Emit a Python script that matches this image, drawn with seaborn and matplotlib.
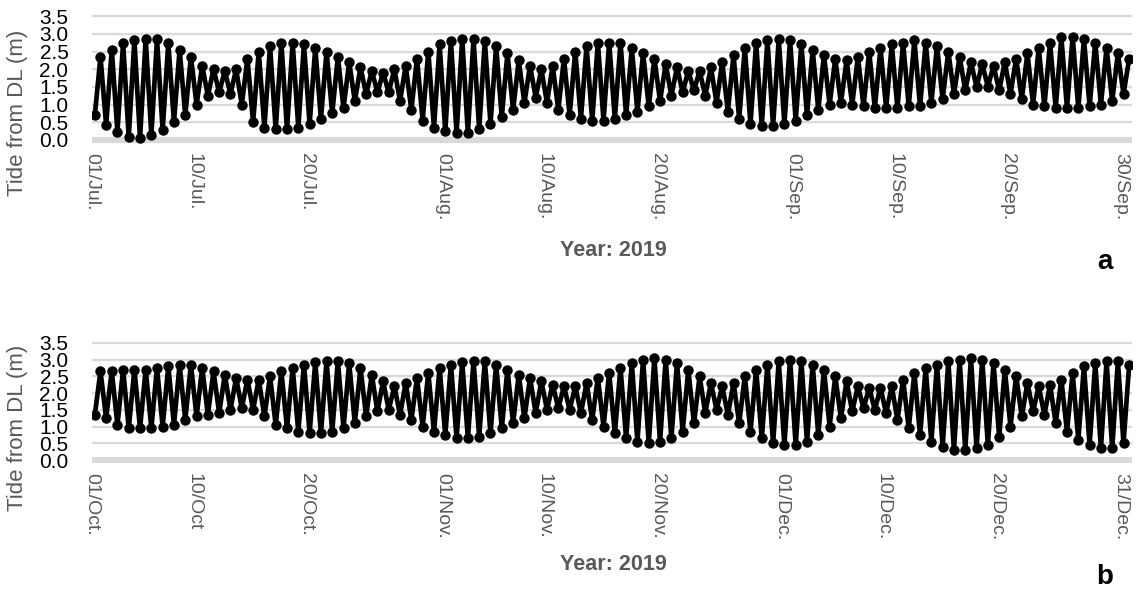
import matplotlib
matplotlib.use("Agg")
import matplotlib.pyplot as plt
from matplotlib import font_manager
import numpy as np
import pandas as pd
import seaborn as sns

# Daily high / low water levels above datum level (m), 1 Jul – 30 Sep 2019
high_jul_sep = [2.35, 2.55, 2.74, 2.82, 2.85, 2.85, 2.74, 2.55, 2.35, 2.10,
                2.00, 1.95, 2.00, 2.30, 2.50, 2.65, 2.75, 2.75, 2.70, 2.60,
                2.50, 2.35, 2.20, 2.05, 1.95, 1.90, 2.00, 2.10, 2.30, 2.50,
                2.70, 2.80, 2.85, 2.85, 2.80, 2.65, 2.45, 2.25, 2.10, 2.00,
                2.10, 2.30, 2.50, 2.65, 2.75, 2.75, 2.75, 2.60, 2.45, 2.30,
                2.15, 2.05, 1.95, 1.95, 2.05, 2.20, 2.40, 2.60, 2.75, 2.82,
                2.85, 2.82, 2.70, 2.55, 2.40, 2.30, 2.25, 2.35, 2.50, 2.60,
                2.70, 2.75, 2.82, 2.75, 2.65, 2.50, 2.35, 2.20, 2.15, 2.10,
                2.20, 2.30, 2.45, 2.60, 2.75, 2.90, 2.92, 2.85, 2.75, 2.60,
                2.45, 2.30]
low_jul_sep = [0.70, 0.42, 0.23, 0.08, 0.05, 0.14, 0.28, 0.50, 0.70, 1.00,
               1.25, 1.35, 1.30, 1.00, 0.50, 0.35, 0.30, 0.30, 0.35, 0.45,
               0.60, 0.75, 0.90, 1.10, 1.30, 1.35, 1.35, 1.10, 0.85, 0.55,
               0.35, 0.25, 0.20, 0.20, 0.30, 0.45, 0.65, 0.85, 1.05, 1.20,
               1.05, 0.85, 0.70, 0.60, 0.55, 0.55, 0.60, 0.70, 0.80, 0.95,
               1.10, 1.25, 1.35, 1.40, 1.25, 1.05, 0.80, 0.60, 0.45, 0.40,
               0.40, 0.45, 0.55, 0.70, 0.85, 1.00, 1.05, 1.00, 0.95, 0.90,
               0.90, 0.90, 0.95, 0.95, 1.05, 1.15, 1.30, 1.40, 1.50, 1.50,
               1.40, 1.30, 1.15, 1.00, 0.95, 0.90, 0.90, 0.90, 0.95, 1.00,
               1.10, 1.30]

# Daily high / low water levels above datum level (m), 1 Oct – 31 Dec 2019
high_oct_dec = [2.65, 2.65, 2.70, 2.70, 2.70, 2.75, 2.80, 2.85, 2.85, 2.75,
                2.65, 2.55, 2.45, 2.40, 2.40, 2.50, 2.65, 2.75, 2.85, 2.92,
                2.95, 2.95, 2.90, 2.75, 2.55, 2.35, 2.20, 2.30, 2.45, 2.60,
                2.75, 2.85, 2.92, 2.95, 2.95, 2.85, 2.70, 2.55, 2.45, 2.35,
                2.25, 2.20, 2.20, 2.30, 2.45, 2.60, 2.75, 2.90, 3.00, 3.04,
                3.00, 2.90, 2.70, 2.50, 2.30, 2.20, 2.30, 2.50, 2.70, 2.85,
                2.95, 3.00, 2.95, 2.85, 2.70, 2.50, 2.35, 2.20, 2.15, 2.15,
                2.20, 2.40, 2.60, 2.75, 2.85, 2.95, 3.00, 3.04, 3.00, 2.90,
                2.70, 2.50, 2.30, 2.20, 2.25, 2.40, 2.60, 2.80, 2.90, 2.95,
                2.95, 2.85]
low_oct_dec = [1.35, 1.25, 1.05, 0.95, 0.95, 0.95, 1.00, 1.05, 1.20, 1.30,
               1.35, 1.40, 1.50, 1.55, 1.50, 1.30, 1.05, 0.95, 0.85, 0.80,
               0.80, 0.85, 0.95, 1.10, 1.30, 1.45, 1.50, 1.35, 1.20, 1.00,
               0.85, 0.75, 0.65, 0.65, 0.70, 0.80, 0.95, 1.10, 1.25, 1.40,
               1.50, 1.55, 1.50, 1.40, 1.20, 1.00, 0.80, 0.65, 0.55, 0.50,
               0.55, 0.65, 0.85, 1.10, 1.40, 1.50, 1.35, 1.10, 0.85, 0.65,
               0.50, 0.45, 0.45, 0.55, 0.75, 1.00, 1.25, 1.45, 1.55, 1.50,
               1.40, 1.20, 0.95, 0.75, 0.55, 0.40, 0.30, 0.30, 0.35, 0.45,
               0.70, 1.00, 1.30, 1.45, 1.35, 1.10, 0.85, 0.60, 0.45, 0.35,
               0.35, 0.50]

# Date ticks and their labels
ticks_jul_sep = ["2019-07-01", "2019-07-10", "2019-07-20", "2019-08-01", "2019-08-10",
                 "2019-08-20", "2019-09-01", "2019-09-10", "2019-09-20", "2019-09-30"]
labels_jul_sep = ["01/Jul.", "10/Jul.", "20/Jul.", "01/Aug.", "10/Aug.",
                  "20/Aug.", "01/Sep.", "10/Sep.", "20/Sep.", "30/Sep."]
ticks_oct_dec = ["2019-10-01", "2019-10-10", "2019-10-20", "2019-11-01", "2019-11-10",
                 "2019-11-20", "2019-12-01", "2019-12-10", "2019-12-20", "2019-12-31"]
labels_oct_dec = ["01/Oct.", "10/Oct", "20/Oct.", "01/Nov.", "10/Nov.",
                  "20/Nov.", "01/Dec.", "10/Dec.", "20/Dec.", "31/Dec."]

y_ticks = [0.0, 0.5, 1.0, 1.5, 2.0, 2.5, 3.0, 3.5]

sns.set_theme(style="white")
plt.rcParams["font.family"] = ["Liberation Sans", "DejaVu Sans"]

installed = {f.name for f in font_manager.fontManager.ttflist}
NARROW = "Liberation Sans Narrow" if "Liberation Sans Narrow" in installed else "Liberation Sans"
NARROW_SIZE = 18.5 if NARROW == "Liberation Sans Narrow" else 15.5

GREY_TEXT = "#595959"
GRID = "#d9d9d9"


def tide_frame(highs, lows):
    """Alternate low and high water within each day (day index as x)."""
    rows = []
    for d, (h, l) in enumerate(zip(highs, lows)):
        rows.append((d + 0.25, l))
        rows.append((d + 0.75, h))
    return pd.DataFrame(rows, columns=["day", "level"])


def draw_panel(ax, highs, lows, start, ticks, labels):
    df = tide_frame(highs, lows)
    for v in y_ticks[1:]:
        ax.axhline(v, color=GRID, lw=1.6, zorder=0)
    ax.axhline(0.0, color=GRID, lw=4.5, zorder=0)
    sns.lineplot(data=df, x="day", y="level", ax=ax, color="black",
                 lw=3.4, marker="o", markersize=7.5, markeredgewidth=0,
                 estimator=None, sort=False, zorder=3)
    t0 = pd.Timestamp(start)
    pos = [(pd.Timestamp(t) - t0).days for t in ticks]
    ax.set_xticks(pos)
    ax.set_xticklabels(labels, rotation=270, color=GREY_TEXT, fontsize=14,
                       ha="center", va="top")
    ax.set_xlim(0, len(highs))
    ax.set_ylim(-0.1, 3.6)
    ax.set_yticks(y_ticks)
    ax.set_yticklabels([f"{v:.1f}" for v in y_ticks], fontsize=15,
                       color="black")
    ax.tick_params(axis="both", length=0)
    ax.tick_params(axis="x", pad=7)
    ax.tick_params(axis="y", pad=17)
    for s in ax.spines.values():
        s.set_visible(False)
    ax.set_xlabel("")
    ax.set_ylabel("")


fig = plt.figure(figsize=(11.37, 5.92), dpi=100)
ax_a = fig.add_axes([92 / 1137, 1 - 143.5 / 592, 1040 / 1137, 130.9 / 592])
ax_b = fig.add_axes([92 / 1137, 1 - 463.4 / 592, 1040 / 1137, 124.0 / 592])

draw_panel(ax_a, high_jul_sep, low_jul_sep, "2019-07-01", ticks_jul_sep, labels_jul_sep)
draw_panel(ax_b, high_oct_dec, low_oct_dec, "2019-10-01", ticks_oct_dec, labels_oct_dec)

for yc, (ax, letter, yl) in zip([113, 428], [(ax_a, "a", 250), (ax_b, "b", 565)]):
    fig.text(18 / 1137, 1 - yc / 592, "Tide from DL (m)", rotation=90,
             ha="center", va="center", fontsize=16, color=GREY_TEXT)
    fig.text(613 / 1137, 1 - yl / 592, "Year: 2019", ha="center", va="center",
             fontsize=NARROW_SIZE, fontweight="bold", color=GREY_TEXT,
             family=[NARROW, "DejaVu Sans"])
    fig.text(1105 / 1137, 1 - (yl + 12) / 592, letter, ha="center", va="center",
             fontsize=20, fontweight="bold", color="black")

fig.savefig("out.png", dpi=100)
